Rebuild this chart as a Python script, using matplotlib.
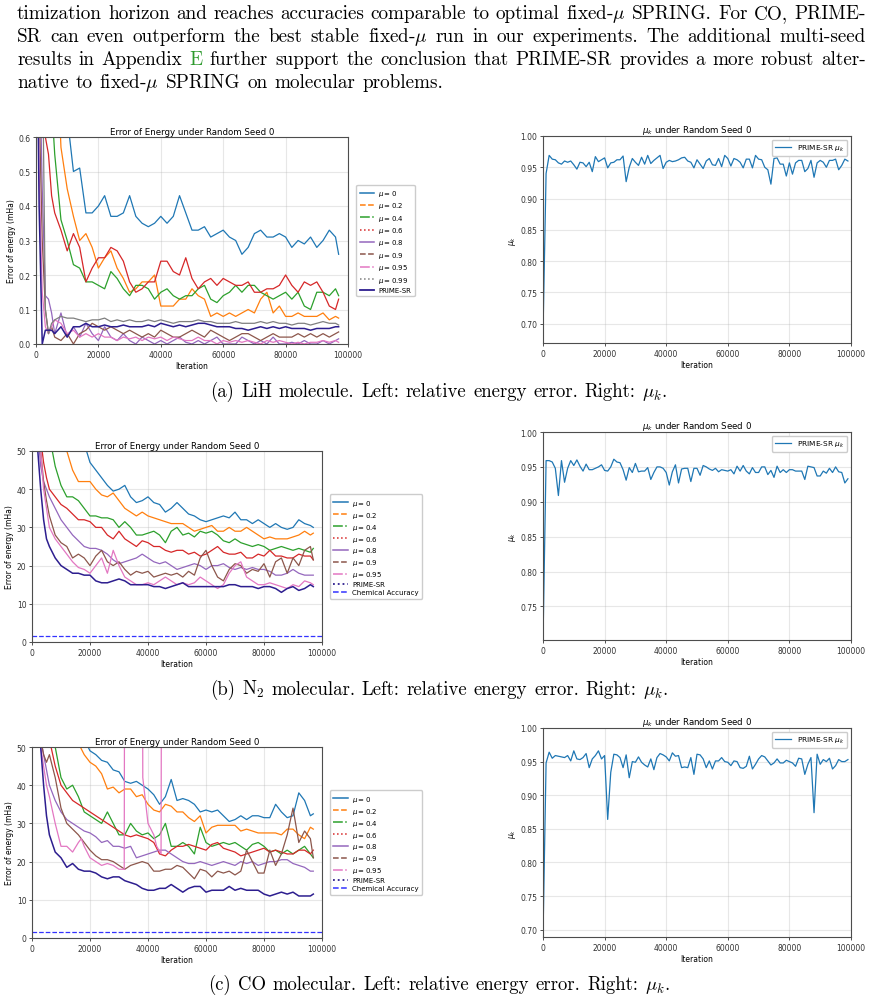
import matplotlib
matplotlib.use("Agg")
import matplotlib.pyplot as plt
from matplotlib.lines import Line2D

W, H = 876, 1003

# ---------------- data ----------------
# iterations for the energy-error curves
ITER = [0, 1000, 2000, 3000, 4000, 5000, 6000] + list(range(8000, 97000, 2000)) + [97000]
# iterations for mu_k
ITER_MU = list(range(0, 100000, 1000))

# (a) LiH, error of energy (mHa)
A_MU0 = [3.0, 2.6, 2.2, 1.9, 1.6, 1.4, 1.2,
         0.85, 0.66, 0.50, 0.51, 0.38, 0.38, 0.40, 0.43, 0.37,
         0.37, 0.38, 0.43, 0.37, 0.35, 0.34, 0.35, 0.37, 0.35,
         0.37, 0.43, 0.38, 0.33, 0.33, 0.34, 0.31, 0.32, 0.33,
         0.31, 0.30, 0.26, 0.28, 0.32, 0.33, 0.31, 0.31, 0.32,
         0.31, 0.28, 0.30, 0.29, 0.31, 0.28, 0.30, 0.33, 0.31,
         0.26]
A_MU02 = [4.0, 3.2, 2.6, 2.1, 1.7, 1.3, 1.0,
          0.57, 0.45, 0.37, 0.30, 0.32, 0.28, 0.22, 0.25, 0.27,
          0.22, 0.19, 0.15, 0.16, 0.18, 0.18, 0.20, 0.11, 0.11,
          0.11, 0.13, 0.13, 0.16, 0.14, 0.13, 0.08, 0.09, 0.08,
          0.09, 0.08, 0.09, 0.10, 0.09, 0.13, 0.15, 0.09, 0.11,
          0.08, 0.08, 0.09, 0.08, 0.08, 0.08, 0.09, 0.07, 0.08,
          0.075]
A_MU04 = [3.5, 2.5, 1.8, 1.3, 0.95, 0.7, 0.55,
          0.36, 0.30, 0.23, 0.22, 0.18, 0.18, 0.17, 0.16, 0.21,
          0.19, 0.16, 0.14, 0.17, 0.17, 0.16, 0.13, 0.15, 0.16,
          0.14, 0.13, 0.14, 0.14, 0.16, 0.17, 0.13, 0.12, 0.14,
          0.15, 0.17, 0.15, 0.17, 0.17, 0.15, 0.14, 0.13, 0.14,
          0.15, 0.13, 0.15, 0.11, 0.10, 0.15, 0.15, 0.14, 0.16,
          0.14]
A_MU06 = [2.5, 1.4, 0.85, 0.6, 0.55, 0.43, 0.38,
          0.33, 0.27, 0.32, 0.28, 0.18, 0.22, 0.25, 0.25, 0.28,
          0.27, 0.24, 0.18, 0.15, 0.16, 0.18, 0.18, 0.24, 0.24,
          0.21, 0.20, 0.25, 0.19, 0.16, 0.18, 0.19, 0.17, 0.19,
          0.18, 0.17, 0.17, 0.18, 0.15, 0.15, 0.16, 0.16, 0.17,
          0.20, 0.17, 0.15, 0.18, 0.17, 0.18, 0.15, 0.11, 0.10,
          0.13]
A_MU08 = [1.5, 0.9, 0.45, 0.14, 0.13, 0.09, 0.03,
          0.09, 0.02, 0.05, 0.02, 0.06, 0.03, 0.01, 0.05, 0.02,
          0.01, 0.03, 0.01, 0.0, 0.02, 0.01, 0.0, 0.01, 0.0,
          0.01, 0.02, 0.005, 0.0, 0.01, 0.0, 0.01, 0.02, 0.0,
          0.0, 0.0, 0.02, 0.01, 0.0, 0.01, 0.0, 0.02, 0.0,
          0.0, 0.005, 0.0, 0.01, 0.0, 0.0, 0.01, 0.0, 0.01,
          0.015]
A_MU09 = [1.5, 0.7, 0.3, 0.1, 0.03, 0.05, 0.02,
          0.01, 0.03, 0.0, 0.03, 0.04, 0.06, 0.05, 0.04, 0.05,
          0.04, 0.03, 0.04, 0.03, 0.02, 0.03, 0.02, 0.04, 0.03,
          0.02, 0.02, 0.03, 0.04, 0.03, 0.02, 0.04, 0.03, 0.02,
          0.01, 0.02, 0.03, 0.03, 0.02, 0.01, 0.02, 0.03, 0.02,
          0.02, 0.02, 0.03, 0.02, 0.03, 0.02, 0.03, 0.02, 0.03,
          0.035]
A_MU095 = [1.2, 0.5, 0.15, 0.05, 0.03, 0.05, 0.07,
           0.06, 0.03, 0.04, 0.02, 0.03, 0.02, 0.03, 0.02, 0.02,
           0.01, 0.02, 0.015, 0.02, 0.01, 0.02, 0.015, 0.02, 0.01,
           0.02, 0.015, 0.01, 0.01, 0.02, 0.01, 0.01, 0.0, 0.01,
           0.005, 0.01, 0.005, 0.01, 0.005, 0.0, 0.01, 0.005, 0.01,
           0.005, 0.0, 0.005, 0.0, 0.005, 0.005, 0.01, 0.005, 0.01,
           0.005]
A_MU099 = [3.0, 2.0, 0.9, 0.1, 0.03, 0.06, 0.07,
           0.08, 0.075, 0.075, 0.07, 0.065, 0.07, 0.07, 0.075, 0.065,
           0.07, 0.065, 0.07, 0.065, 0.065, 0.07, 0.065, 0.07, 0.065,
           0.06, 0.065, 0.065, 0.065, 0.07, 0.065, 0.065, 0.06, 0.06,
           0.06, 0.065, 0.06, 0.06, 0.06, 0.065, 0.06, 0.065, 0.06,
           0.06, 0.055, 0.06, 0.06, 0.055, 0.06, 0.065, 0.06, 0.06,
           0.055]
A_PRIME = [1.2, 0.4, 0.0, 0.04, 0.04, 0.04, 0.03,
           0.05, 0.02, 0.05, 0.05, 0.06, 0.05, 0.05, 0.055, 0.05,
           0.05, 0.055, 0.05, 0.05, 0.05, 0.055, 0.05, 0.06, 0.055,
           0.05, 0.055, 0.05, 0.055, 0.06, 0.06, 0.055, 0.05, 0.05,
           0.05, 0.045, 0.045, 0.04, 0.045, 0.05, 0.045, 0.05, 0.045,
           0.05, 0.045, 0.045, 0.045, 0.04, 0.045, 0.045, 0.045, 0.05,
           0.05]

# (b) N2, error of energy (mHa)
B_MU0 = [200, 150, 120, 100, 90, 82, 76,
         70, 66, 62, 58, 55, 52, 47, 45, 43,
         41, 39.5, 40, 41, 38, 36.5, 37, 38, 36.5,
         36, 34, 35, 36.5, 35, 33.5, 33, 32, 31.5,
         32, 32.5, 33, 32.5, 34, 32, 32, 31, 32,
         31, 30, 31, 30, 29.5, 30, 32, 31, 30.5,
         30]
B_MU02 = [200, 140, 110, 90, 78, 70, 64,
          59, 54, 50, 45, 42, 42, 42, 40, 38.5,
          38, 39, 37, 35, 34, 33, 34, 33, 32.5,
          32, 31.5, 31, 31, 31, 30, 29, 29.5, 30,
          30.5, 29, 29, 30, 29, 29, 30, 29, 28,
          27, 27.5, 27, 27, 27, 27.5, 28, 29, 28,
          28.5]
B_MU04 = [200, 130, 95, 75, 64, 58, 54,
          46, 41, 38, 38, 37, 35, 33, 33, 32.5,
          32.5, 32, 30, 31.5, 30, 28, 28, 28.5, 29,
          28, 26, 29, 30, 28, 28.5, 27.5, 29, 28.5,
          29, 28, 26.5, 26, 27, 26, 25.5, 25, 25.5,
          25, 24, 24.5, 25, 24.5, 24, 24.5, 24, 23.5,
          24.5]
B_MU06 = [150, 90, 65, 53, 47, 43, 40,
          38, 36, 35, 33.5, 32, 32, 31.5, 30, 30,
          28, 27, 29, 27, 26, 25, 26.5, 26, 25,
          25, 24, 23.5, 24, 24, 23, 23.5, 22.5, 23,
          24, 25, 23.5, 23, 23, 23.5, 22, 22, 23,
          22.5, 24, 22.5, 22.5, 22, 22, 23, 22.5, 22.5,
          21.5]
B_MU08 = [150, 80, 55, 46, 42, 40, 38,
          35, 32, 30, 28, 26.5, 25, 24.5, 24.5, 24,
          23, 21.5, 20.5, 21, 21.5, 22, 23, 22, 21,
          20.5, 21, 20, 19, 19.5, 20, 20.5, 20, 19,
          20, 20, 20.5, 19.5, 19, 19.5, 19, 19.5, 19,
          19, 18.5, 17.5, 17.5, 18, 19, 18, 17.5, 17.5,
          17.5]
B_MU09 = [150, 80, 60, 50, 42, 37, 33,
          28, 26, 25, 22, 23, 22, 20, 22.5, 24,
          21, 20, 21, 19, 17.5, 18.5, 18, 18.5, 17,
          17.5, 18, 17.5, 18, 17, 18.5, 17.5, 22, 24,
          20, 17, 16, 19, 20.5, 20, 18, 19, 18.5,
          20.5, 17, 21, 22, 18, 22, 20, 24, 25,
          21.5]
B_MU095 = [150, 80, 60, 50, 40, 35, 30,
           27, 25, 23, 21, 19.5, 19, 18, 20, 22,
           18, 24, 20, 17, 16, 15, 15, 15.5, 15,
           16, 17, 16, 15, 15.5, 15, 15.5, 17, 16,
           15, 14, 15, 18, 20, 21, 17, 16, 15,
           15, 15.5, 15, 14.5, 14, 15, 14.5, 16, 15.5,
           15]
B_PRIME = [150, 90, 50, 40, 32, 27, 25,
           22, 20, 19, 18, 18, 17.5, 17.5, 16, 15.5,
           15.5, 16, 16.5, 16, 15, 15, 15, 15, 14.5,
           14.5, 14, 14.5, 15, 15.5, 14.5, 14.5, 14.5, 14.5,
           14.5, 14.5, 14.5, 15, 15, 14.5, 14.5, 14.5, 14,
           14.5, 14.5, 14, 13, 14, 14.5, 13.5, 14, 15,
           14.5]

# (c) CO, error of energy (mHa)
C_MU0 = [200, 150, 120, 100, 90, 82, 76,
         70, 65, 61, 58, 55, 52, 49, 48, 46.5,
         46, 44, 43.5, 41, 40.5, 41, 40, 39, 37.5,
         35, 37, 41.5, 36, 36.5, 36, 35, 33, 33.5,
         33, 33.5, 32, 30.5, 31, 32, 31, 32, 32,
         31.5, 31.5, 35, 33, 31.5, 32, 38, 36, 32,
         32.5]
C_MU02 = [200, 140, 110, 90, 80, 72, 66,
          62, 58, 56, 54, 51, 48, 46, 45, 43,
          39, 39.5, 38, 39, 39, 37, 37.5, 35, 33.5,
          33, 35, 34.5, 33, 33, 31.5, 30.5, 32, 27.5,
          29, 29.5, 29.5, 29.5, 29.5, 28, 28.5, 28, 27.5,
          27.5, 27.5, 27.5, 27, 28.5, 28.5, 27, 26, 29,
          28.5]
C_MU04 = [200, 130, 95, 78, 68, 60, 55,
          50, 42, 39, 40, 37, 33, 32, 31, 30,
          33, 30, 27, 27, 30, 28, 27, 27.5, 26,
          27, 30, 24, 24, 25, 24, 22, 29, 25,
          24, 24.5, 25, 24.5, 25, 24, 23, 24.5, 25,
          24, 22.5, 23, 22, 23, 22, 23, 24, 22,
          21]
C_MU06 = [200, 120, 90, 72, 63, 57, 52,
          45, 40, 38, 36, 35, 34, 33, 32, 31,
          30, 29, 28, 27, 26.5, 27, 26.5, 26, 25,
          22, 21.5, 23, 24, 24, 24.5, 24, 23.5, 23,
          24.5, 25, 23.5, 23, 22.5, 21.5, 22, 22.5, 23,
          23.5, 22.5, 23, 22.5, 22, 22, 23, 23, 22,
          23]
C_MU08 = [150, 80, 60, 52, 48, 44, 40,
          36, 33, 31, 30, 29, 28, 27.5, 26.5, 25,
          25.5, 24, 24, 23.5, 24, 21, 21.5, 22, 22.5,
          23, 23, 22, 21, 20, 19.5, 19.5, 20, 19.5,
          19, 19.5, 20, 19.5, 19, 20, 19.5, 20, 19,
          19.5, 20, 20, 20.5, 20.5, 19.5, 19, 18.5, 17.5,
          17.5]
C_MU09 = [150, 80, 60, 52, 48, 46, 48,
          42, 34, 30, 28.5, 27, 25, 23, 21.5, 20.5,
          20.5, 20, 19, 18, 19, 19.5, 20, 19.5, 17.5,
          17.5, 18, 18, 19, 18.5, 17, 15.5, 18, 17.5,
          16, 17.5, 17, 17.5, 16.5, 17.5, 23, 20, 17,
          17, 23, 19, 22, 27, 34, 25, 28, 26,
          21]
# mu=0.95 on CO blows up twice, so it gets its own iterations
C_MU095_ITER = [0, 1000, 2000, 3000, 4000, 5000, 6000, 8000, 10000, 12000, 14000,
                16000, 17000, 18000, 20000, 22000, 24000, 26000, 28000, 30000,
                31800, 32200, 37800, 38200, 40000, 42000, 43000, 44500, 45000]
C_MU095 = [150, 90, 60, 50, 45, 40, 37, 30, 24, 24, 22.5,
           25, 26, 24, 21, 20, 19, 19.5, 19, 18,
           18, 200, 200, 42, 30, 27, 24, 22, 200]
C_PRIME = [200, 100, 70, 50, 40, 32, 27,
           22.5, 21, 18.5, 19.5, 18, 17.5, 17.5, 17, 16,
           15.5, 16, 16, 15, 14.5, 14, 13, 12.5, 12.5,
           13, 13, 14, 13, 12, 13, 13.5, 13.5, 12,
           12.5, 12.5, 12.5, 13.5, 12.5, 13, 12.5, 12.5, 12.5,
           11.5, 11, 11.5, 12, 11.5, 12, 11, 11, 11,
           11.5]
CHEM_ACC = 1.6

# mu_k of PRIME-SR
MUK_A = [0.685, 0.940, 0.969, 0.963, 0.962, 0.957, 0.955, 0.960, 0.958, 0.960,
         0.954, 0.947, 0.958, 0.957, 0.951, 0.958, 0.943, 0.967, 0.959, 0.962,
         0.965, 0.949, 0.957, 0.958, 0.962, 0.962, 0.968, 0.927, 0.950, 0.964,
         0.958, 0.953, 0.966, 0.955, 0.969, 0.956, 0.961, 0.965, 0.969, 0.948,
         0.958, 0.961, 0.959, 0.960, 0.962, 0.965, 0.966, 0.960, 0.958, 0.949,
         0.962, 0.955, 0.948, 0.960, 0.964, 0.954, 0.953, 0.964, 0.951, 0.969,
         0.964, 0.952, 0.964, 0.962, 0.958, 0.949, 0.963, 0.963, 0.949, 0.969,
         0.963, 0.962, 0.950, 0.946, 0.923, 0.964, 0.965, 0.955, 0.955, 0.936,
         0.957, 0.939, 0.957, 0.961, 0.961, 0.943, 0.948, 0.961, 0.934, 0.957,
         0.961, 0.958, 0.950, 0.961, 0.961, 0.963, 0.946, 0.953, 0.963, 0.960]
MUK_B = [0.700, 0.959, 0.959, 0.957, 0.948, 0.909, 0.959, 0.928, 0.948, 0.959,
         0.952, 0.960, 0.951, 0.944, 0.954, 0.946, 0.946, 0.948, 0.950, 0.953,
         0.945, 0.944, 0.950, 0.961, 0.957, 0.956, 0.946, 0.931, 0.949, 0.942,
         0.955, 0.943, 0.944, 0.944, 0.949, 0.932, 0.942, 0.950, 0.950, 0.948,
         0.942, 0.924, 0.943, 0.953, 0.927, 0.947, 0.948, 0.948, 0.929, 0.948,
         0.948, 0.938, 0.952, 0.950, 0.947, 0.945, 0.948, 0.943, 0.946, 0.945,
         0.944, 0.946, 0.940, 0.951, 0.944, 0.952, 0.944, 0.940, 0.949, 0.942,
         0.942, 0.950, 0.950, 0.939, 0.945, 0.935, 0.951, 0.942, 0.946, 0.942,
         0.946, 0.946, 0.944, 0.944, 0.944, 0.932, 0.951, 0.950, 0.949, 0.937,
         0.937, 0.944, 0.941, 0.948, 0.942, 0.950, 0.943, 0.942, 0.927, 0.933]
MUK_C = [0.690, 0.948, 0.964, 0.955, 0.959, 0.958, 0.957, 0.956, 0.959, 0.951,
         0.966, 0.954, 0.953, 0.956, 0.962, 0.941, 0.954, 0.959, 0.966, 0.954,
         0.959, 0.864, 0.934, 0.961, 0.960, 0.956, 0.941, 0.960, 0.926, 0.950,
         0.949, 0.957, 0.949, 0.945, 0.942, 0.954, 0.938, 0.956, 0.962, 0.960,
         0.957, 0.951, 0.963, 0.958, 0.959, 0.941, 0.942, 0.941, 0.956, 0.931,
         0.961, 0.960, 0.954, 0.941, 0.951, 0.939, 0.951, 0.951, 0.956, 0.950,
         0.949, 0.944, 0.951, 0.950, 0.941, 0.940, 0.943, 0.958, 0.939, 0.946,
         0.954, 0.959, 0.957, 0.951, 0.945, 0.948, 0.954, 0.948, 0.948, 0.952,
         0.950, 0.948, 0.943, 0.955, 0.954, 0.931, 0.946, 0.956, 0.874, 0.961,
         0.946, 0.953, 0.950, 0.955, 0.939, 0.944, 0.953, 0.950, 0.950, 0.953]

MU_LABELS = ["0", "0.2", "0.4", "0.6", "0.8", "0.9", "0.95", "0.99"]
COLORS = ["#1f77b4", "#ff7f0e", "#2ca02c", "#d62728", "#9467bd", "#8c564b", "#e377c2", "#7f7f7f"]
STYLES = ["-", "--", "-.", ":", "-", "--", "-.", ":"]
PRIME_COLOR = "#2d1e8f"

BODY = [
    "timization horizon and reaches accuracies comparable to optimal fixed-$\\mu$ SPRING. For CO, PRIME-",
    "SR can even outperform the best stable fixed-$\\mu$ run in our experiments. The additional multi-seed",
    "results in Appendix E further support the conclusion that PRIME-SR provides a more robust alter-",
    "native to fixed-$\\mu$ SPRING on molecular problems.",
]
CAPTIONS = [
    "(a) LiH molecule. Left: relative energy error. Right: $\\mu_k$.",
    "(b) N$_2$ molecular. Left: relative energy error. Right: $\\mu_k$.",
    "(c) CO molecular. Left: relative energy error. Right: $\\mu_k$.",
]

plt.rcParams["font.size"] = 5.5
plt.rcParams["axes.linewidth"] = 0.8
plt.rcParams["axes.edgecolor"] = "0.3"
plt.rcParams["xtick.major.size"] = 2.5
plt.rcParams["ytick.major.size"] = 2.5
plt.rcParams["xtick.major.width"] = 0.6
plt.rcParams["ytick.major.width"] = 0.6
plt.rcParams["xtick.color"] = "0.2"
plt.rcParams["ytick.color"] = "0.2"

fig = plt.figure(figsize=(W / 100, H / 100), dpi=100)


def px_axes(l, t, r, b):
    return fig.add_axes([l / W, 1 - b / H, (r - l) / W, (b - t) / H])


def error_panel(ax, series, ymax, prime_style, chem, spacing):
    # the last entry of series is PRIME-SR, drawn on top
    handles = []
    for i, (x, y) in enumerate(series[:-1]):
        ax.plot(x, y, color=COLORS[i], lw=0.9)
        handles.append(Line2D([], [], color=COLORS[i], ls=STYLES[i], lw=1.1,
                              label="$\\mu = %s$" % MU_LABELS[i]))
    px, py = series[-1]
    ax.plot(px, py, color=PRIME_COLOR, lw=1.1)
    handles.append(Line2D([], [], color=PRIME_COLOR, ls=prime_style, lw=1.3, label="PRIME-SR"))
    if chem:
        ax.axhline(CHEM_ACC, color="blue", ls="--", lw=0.9, alpha=0.8)
        handles.append(Line2D([], [], color="blue", ls="--", lw=1.1, alpha=0.8, label="Chemical Accuracy"))
    ax.set_xlim(0, 100000)
    ax.set_ylim(0, ymax)
    ax.grid(True, alpha=0.3)
    ax.set_title("Error of Energy under Random Seed 0", fontsize=6.2, pad=2.5)
    ax.set_xlabel("Iteration", labelpad=2)
    ax.set_ylabel("Error of energy (mHa)", labelpad=2)
    ax.tick_params(labelsize=5.5, pad=1.5)
    ax.legend(handles=handles, loc="center left", bbox_to_anchor=(1.015, 0.5),
              fontsize=5.0, handlelength=2.1, labelspacing=spacing, borderpad=0.5,
              handletextpad=0.6, framealpha=1)


def mu_panel(ax, muk, ylo):
    ax.plot(ITER_MU, muk, color="#1f77b4", lw=0.9, label="PRIME-SR $\\mu_k$")
    ax.set_xlim(0, 100000)
    ax.set_ylim(ylo, 1.0)
    ax.grid(True, alpha=0.3)
    ax.set_title("$\\mu_k$ under Random Seed 0", fontsize=6.2, pad=2.5)
    ax.set_xlabel("Iteration", labelpad=2)
    ax.set_ylabel("$\\mu_k$", labelpad=2)
    ax.tick_params(labelsize=5.5, pad=1.5)
    ax.legend(loc="upper right", fontsize=5.3, handlelength=2.2, framealpha=1)


series_a = [(ITER, A_MU0), (ITER, A_MU02), (ITER, A_MU04), (ITER, A_MU06), (ITER, A_MU08),
            (ITER, A_MU09), (ITER, A_MU095), (ITER, A_MU099), (ITER, A_PRIME)]
series_b = [(ITER, B_MU0), (ITER, B_MU02), (ITER, B_MU04), (ITER, B_MU06), (ITER, B_MU08),
            (ITER, B_MU09), (ITER, B_MU095), (ITER, B_PRIME)]
series_c = [(ITER, C_MU0), (ITER, C_MU02), (ITER, C_MU04), (ITER, C_MU06), (ITER, C_MU08),
            (ITER, C_MU09), (C_MU095_ITER, C_MU095), (ITER, C_PRIME)]

error_panel(px_axes(36, 138, 348, 345), series_a, 0.6, "-", False, 0.34)
mu_panel(px_axes(543, 137, 851, 344), MUK_A, 0.669)
error_panel(px_axes(32, 452, 322, 643), series_b, 50, ":", True, 0.28)
mu_panel(px_axes(543, 433, 851, 641), MUK_B, 0.702)
error_panel(px_axes(32, 748, 322, 939), series_c, 50, ":", True, 0.28)
mu_panel(px_axes(543, 729, 851, 938), MUK_C, 0.689)

# ---------------- page text ----------------
renderer = fig.canvas.get_renderer()


def text_line(line, x0, x1, y, size, justify):
    txt = dict(fontfamily="cmr10", math_fontfamily="cm", fontsize=size, va="baseline", ha="left")
    words = line.split(" ")
    items = []
    for w in words:
        color = "#2e9a2e" if w == "E" else "black"
        items.append(fig.text(0, 1 - y / H, w, color=color, **txt))
    widths = [t.get_window_extent(renderer).width for t in items]
    if justify:
        gap = (x1 - x0 - sum(widths)) / (len(items) - 1)
    else:
        gap = size * 100 / 72 * 0.36
    if x0 is None:
        total = sum(widths) + gap * (len(items) - 1)
        x0 = (x1 - total / 2)
    x = x0
    for t, w in zip(items, widths):
        t.set_x(x / W)
        x += w + gap


for i, line in enumerate(BODY):
    text_line(line, 17, 866, 19 + i * 23, 13.8, i < 3)

for y, cap in zip([397, 695, 990], CAPTIONS):
    text_line(cap, None, 439, y, 13.5, False)

fig.savefig("out.png", dpi=100)
